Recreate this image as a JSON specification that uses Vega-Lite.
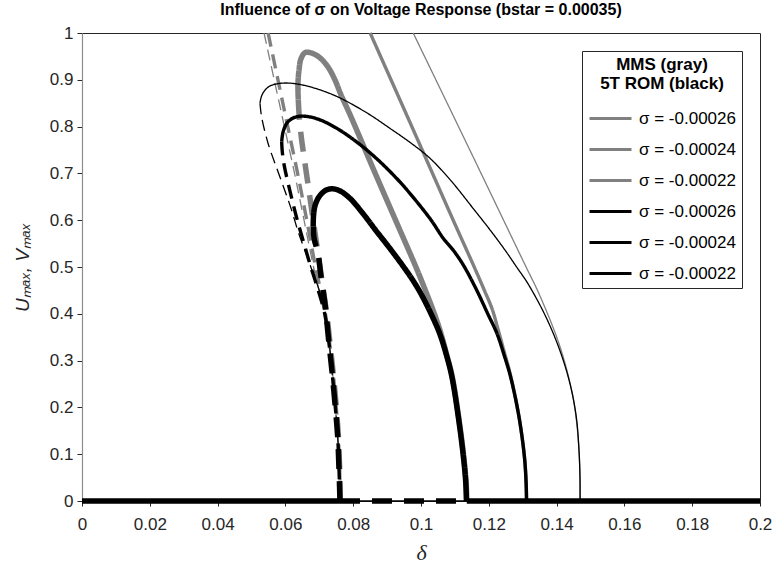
{
"$schema":"https://vega.github.io/schema/vega-lite/v6.json",
"width":678,"height":468,
"autosize":{"type":"none"},
"padding":{"left":82,"top":33,"right":15,"bottom":64},
"title":{"text":"Influence of σ on Voltage Response (bstar = 0.00035)","fontSize":16,"fontWeight":"bold","font":"Liberation Sans","color":"#000000","anchor":"middle","offset":6},
"config":{
 "view":{"stroke":"#262626","strokeWidth":1},
 "font":"Liberation Sans",
 "axis":{"labelFont":"Liberation Sans","labelFontSize":17,"labelColor":"#262626","tickColor":"#262626","grid":false,"domain":false,"tickSize":5,"tickWidth":1,"labelFlush":false,"labelOverlap":false},
 "legend":{"orient":"top-right","offset":18,"fillColor":"#ffffff","strokeColor":"#262626","padding":6,
  "titleFont":"Liberation Sans","titleFontSize":17,"titleFontWeight":"bold","titleColor":"#000000","titleAlign":"center","titleAnchor":"middle","titlePadding":3,
  "labelFont":"Liberation Sans","labelFontSize":17,"labelColor":"#000000","labelOffset":6,"symbolType":"stroke","symbolSize":1764,"symbolStrokeWidth":3,"rowPadding":0}
},
"datasets":{"pts":[
{"c":"G1S","s":"g26","sig":-0.00026,"d":"s","i":0,"x":0.0977,"y":1},
{"c":"G1S","s":"g26","sig":-0.00026,"d":"s","i":1,"x":0.1144,"y":0.75},
{"c":"G1S","s":"g26","sig":-0.00026,"d":"s","i":2,"x":0.1310,"y":0.5},
{"c":"G1S","s":"g26","sig":-0.00026,"d":"s","i":3,"x":0.1343,"y":0.451},
{"c":"G1S","s":"g26","sig":-0.00026,"d":"s","i":4,"x":0.1389,"y":0.372},
{"c":"G1S","s":"g26","sig":-0.00026,"d":"s","i":5,"x":0.1413,"y":0.323},
{"c":"G1S","s":"g26","sig":-0.00026,"d":"s","i":6,"x":0.1434,"y":0.269},
{"c":"G1S","s":"g26","sig":-0.00026,"d":"s","i":7,"x":0.1450,"y":0.216},
{"c":"G1S","s":"g26","sig":-0.00026,"d":"s","i":8,"x":0.1460,"y":0.162},
{"c":"G1S","s":"g26","sig":-0.00026,"d":"s","i":9,"x":0.1466,"y":0.109},
{"c":"G1S","s":"g26","sig":-0.00026,"d":"s","i":10,"x":0.1469,"y":0.05},
{"c":"G1S","s":"g26","sig":-0.00026,"d":"s","i":11,"x":0.1470,"y":0},
{"c":"G2S","s":"g24","sig":-0.00024,"d":"s","i":0,"x":0.0850,"y":1},
{"c":"G2S","s":"g24","sig":-0.00024,"d":"s","i":1,"x":0.0973,"y":0.8},
{"c":"G2S","s":"g24","sig":-0.00024,"d":"s","i":2,"x":0.1095,"y":0.6},
{"c":"G2S","s":"g24","sig":-0.00024,"d":"s","i":3,"x":0.1157,"y":0.5},
{"c":"G2S","s":"g24","sig":-0.00024,"d":"s","i":4,"x":0.1187,"y":0.45},
{"c":"G2S","s":"g24","sig":-0.00024,"d":"s","i":5,"x":0.1210,"y":0.41},
{"c":"G2S","s":"g24","sig":-0.00024,"d":"s","i":6,"x":0.1226,"y":0.37},
{"c":"G2S","s":"g24","sig":-0.00024,"d":"s","i":7,"x":0.1245,"y":0.32},
{"c":"G2S","s":"g24","sig":-0.00024,"d":"s","i":8,"x":0.1265,"y":0.266},
{"c":"G2S","s":"g24","sig":-0.00024,"d":"s","i":9,"x":0.1289,"y":0.18},
{"c":"G2S","s":"g24","sig":-0.00024,"d":"s","i":10,"x":0.1305,"y":0.095},
{"c":"G2S","s":"g24","sig":-0.00024,"d":"s","i":11,"x":0.1310,"y":0.04},
{"c":"G2S","s":"g24","sig":-0.00024,"d":"s","i":12,"x":0.1312,"y":0},
{"c":"G3S","s":"g22","sig":-0.00022,"d":"s","i":0,"x":0.0638,"y":0.857},
{"c":"G3S","s":"g22","sig":-0.00022,"d":"s","i":1,"x":0.0637,"y":0.89},
{"c":"G3S","s":"g22","sig":-0.00022,"d":"s","i":2,"x":0.0640,"y":0.92},
{"c":"G3S","s":"g22","sig":-0.00022,"d":"s","i":3,"x":0.0646,"y":0.945},
{"c":"G3S","s":"g22","sig":-0.00022,"d":"s","i":4,"x":0.0658,"y":0.958},
{"c":"G3S","s":"g22","sig":-0.00022,"d":"s","i":5,"x":0.0678,"y":0.957},
{"c":"G3S","s":"g22","sig":-0.00022,"d":"s","i":6,"x":0.0702,"y":0.947},
{"c":"G3S","s":"g22","sig":-0.00022,"d":"s","i":7,"x":0.0726,"y":0.927},
{"c":"G3S","s":"g22","sig":-0.00022,"d":"s","i":8,"x":0.0746,"y":0.900},
{"c":"G3S","s":"g22","sig":-0.00022,"d":"s","i":9,"x":0.0764,"y":0.868},
{"c":"G3S","s":"g22","sig":-0.00022,"d":"s","i":10,"x":0.0791,"y":0.825},
{"c":"G3S","s":"g22","sig":-0.00022,"d":"s","i":11,"x":0.0865,"y":0.70},
{"c":"G3S","s":"g22","sig":-0.00022,"d":"s","i":12,"x":0.0925,"y":0.60},
{"c":"G3S","s":"g22","sig":-0.00022,"d":"s","i":13,"x":0.0985,"y":0.50},
{"c":"G3S","s":"g22","sig":-0.00022,"d":"s","i":14,"x":0.1013,"y":0.45},
{"c":"G3S","s":"g22","sig":-0.00022,"d":"s","i":15,"x":0.1037,"y":0.405},
{"c":"G3S","s":"g22","sig":-0.00022,"d":"s","i":16,"x":0.1058,"y":0.36},
{"c":"G3S","s":"g22","sig":-0.00022,"d":"s","i":17,"x":0.1076,"y":0.312},
{"c":"G3S","s":"g22","sig":-0.00022,"d":"s","i":18,"x":0.1092,"y":0.266},
{"c":"G3S","s":"g22","sig":-0.00022,"d":"s","i":19,"x":0.1111,"y":0.18},
{"c":"G3S","s":"g22","sig":-0.00022,"d":"s","i":20,"x":0.1126,"y":0.095},
{"c":"G3S","s":"g22","sig":-0.00022,"d":"s","i":21,"x":0.1133,"y":0.04},
{"c":"G3S","s":"g22","sig":-0.00022,"d":"s","i":22,"x":0.1135,"y":0},
{"c":"G1D","s":"g26","sig":-0.00026,"d":"d1","i":0,"x":0.0537,"y":1},
{"c":"G1D","s":"g26","sig":-0.00026,"d":"d1","i":1,"x":0.0567,"y":0.9},
{"c":"G1D","s":"g26","sig":-0.00026,"d":"d1","i":2,"x":0.0597,"y":0.8},
{"c":"G1D","s":"g26","sig":-0.00026,"d":"d1","i":3,"x":0.0627,"y":0.7},
{"c":"G1D","s":"g26","sig":-0.00026,"d":"d1","i":4,"x":0.0655,"y":0.6},
{"c":"G1D","s":"g26","sig":-0.00026,"d":"d1","i":5,"x":0.0683,"y":0.5},
{"c":"G1D","s":"g26","sig":-0.00026,"d":"d1","i":6,"x":0.0699,"y":0.45},
{"c":"G1D","s":"g26","sig":-0.00026,"d":"d1","i":7,"x":0.0714,"y":0.40},
{"c":"G1D","s":"g26","sig":-0.00026,"d":"d1","i":8,"x":0.0727,"y":0.34},
{"c":"G1D","s":"g26","sig":-0.00026,"d":"d1","i":9,"x":0.0738,"y":0.28},
{"c":"G1D","s":"g26","sig":-0.00026,"d":"d1","i":10,"x":0.0748,"y":0.21},
{"c":"G1D","s":"g26","sig":-0.00026,"d":"d1","i":11,"x":0.0755,"y":0.14},
{"c":"G1D","s":"g26","sig":-0.00026,"d":"d1","i":12,"x":0.0759,"y":0.07},
{"c":"G1D","s":"g26","sig":-0.00026,"d":"d1","i":13,"x":0.0762,"y":0},
{"c":"G2D","s":"g24","sig":-0.00024,"d":"d2","i":0,"x":0.0549,"y":1},
{"c":"G2D","s":"g24","sig":-0.00024,"d":"d2","i":1,"x":0.0578,"y":0.9},
{"c":"G2D","s":"g24","sig":-0.00024,"d":"d2","i":2,"x":0.0607,"y":0.8},
{"c":"G2D","s":"g24","sig":-0.00024,"d":"d2","i":3,"x":0.0636,"y":0.7},
{"c":"G2D","s":"g24","sig":-0.00024,"d":"d2","i":4,"x":0.0663,"y":0.6},
{"c":"G2D","s":"g24","sig":-0.00024,"d":"d2","i":5,"x":0.0689,"y":0.5},
{"c":"G2D","s":"g24","sig":-0.00024,"d":"d2","i":6,"x":0.0704,"y":0.45},
{"c":"G2D","s":"g24","sig":-0.00024,"d":"d2","i":7,"x":0.0718,"y":0.40},
{"c":"G2D","s":"g24","sig":-0.00024,"d":"d2","i":8,"x":0.0730,"y":0.34},
{"c":"G2D","s":"g24","sig":-0.00024,"d":"d2","i":9,"x":0.0740,"y":0.28},
{"c":"G2D","s":"g24","sig":-0.00024,"d":"d2","i":10,"x":0.0749,"y":0.21},
{"c":"G2D","s":"g24","sig":-0.00024,"d":"d2","i":11,"x":0.0756,"y":0.14},
{"c":"G2D","s":"g24","sig":-0.00024,"d":"d2","i":12,"x":0.0760,"y":0.07},
{"c":"G2D","s":"g24","sig":-0.00024,"d":"d2","i":13,"x":0.0762,"y":0},
{"c":"G3D","s":"g22","sig":-0.00022,"d":"d3","i":0,"x":0.0638,"y":0.857},
{"c":"G3D","s":"g22","sig":-0.00022,"d":"d3","i":1,"x":0.0641,"y":0.82},
{"c":"G3D","s":"g22","sig":-0.00022,"d":"d3","i":2,"x":0.0647,"y":0.777},
{"c":"G3D","s":"g22","sig":-0.00022,"d":"d3","i":3,"x":0.0656,"y":0.73},
{"c":"G3D","s":"g22","sig":-0.00022,"d":"d3","i":4,"x":0.0666,"y":0.68},
{"c":"G3D","s":"g22","sig":-0.00022,"d":"d3","i":5,"x":0.0678,"y":0.62},
{"c":"G3D","s":"g22","sig":-0.00022,"d":"d3","i":6,"x":0.0690,"y":0.56},
{"c":"G3D","s":"g22","sig":-0.00022,"d":"d3","i":7,"x":0.0702,"y":0.50},
{"c":"G3D","s":"g22","sig":-0.00022,"d":"d3","i":8,"x":0.0712,"y":0.45},
{"c":"G3D","s":"g22","sig":-0.00022,"d":"d3","i":9,"x":0.0722,"y":0.40},
{"c":"G3D","s":"g22","sig":-0.00022,"d":"d3","i":10,"x":0.0731,"y":0.34},
{"c":"G3D","s":"g22","sig":-0.00022,"d":"d3","i":11,"x":0.0740,"y":0.28},
{"c":"G3D","s":"g22","sig":-0.00022,"d":"d3","i":12,"x":0.0749,"y":0.21},
{"c":"G3D","s":"g22","sig":-0.00022,"d":"d3","i":13,"x":0.0756,"y":0.14},
{"c":"G3D","s":"g22","sig":-0.00022,"d":"d3","i":14,"x":0.0760,"y":0.07},
{"c":"G3D","s":"g22","sig":-0.00022,"d":"d3","i":15,"x":0.0762,"y":0},
{"c":"B1S","s":"k26","sig":-0.00026,"d":"s","i":0,"x":0.0525,"y":0.850},
{"c":"B1S","s":"k26","sig":-0.00026,"d":"s","i":1,"x":0.0530,"y":0.866},
{"c":"B1S","s":"k26","sig":-0.00026,"d":"s","i":2,"x":0.0540,"y":0.878},
{"c":"B1S","s":"k26","sig":-0.00026,"d":"s","i":3,"x":0.0555,"y":0.887},
{"c":"B1S","s":"k26","sig":-0.00026,"d":"s","i":4,"x":0.0580,"y":0.892},
{"c":"B1S","s":"k26","sig":-0.00026,"d":"s","i":5,"x":0.0610,"y":0.893},
{"c":"B1S","s":"k26","sig":-0.00026,"d":"s","i":6,"x":0.0650,"y":0.889},
{"c":"B1S","s":"k26","sig":-0.00026,"d":"s","i":7,"x":0.0700,"y":0.879},
{"c":"B1S","s":"k26","sig":-0.00026,"d":"s","i":8,"x":0.0750,"y":0.865},
{"c":"B1S","s":"k26","sig":-0.00026,"d":"s","i":9,"x":0.0791,"y":0.850},
{"c":"B1S","s":"k26","sig":-0.00026,"d":"s","i":10,"x":0.0850,"y":0.825},
{"c":"B1S","s":"k26","sig":-0.00026,"d":"s","i":11,"x":0.0909,"y":0.796},
{"c":"B1S","s":"k26","sig":-0.00026,"d":"s","i":12,"x":0.0970,"y":0.765},
{"c":"B1S","s":"k26","sig":-0.00026,"d":"s","i":13,"x":0.1027,"y":0.732},
{"c":"B1S","s":"k26","sig":-0.00026,"d":"s","i":14,"x":0.1090,"y":0.683},
{"c":"B1S","s":"k26","sig":-0.00026,"d":"s","i":15,"x":0.1154,"y":0.625},
{"c":"B1S","s":"k26","sig":-0.00026,"d":"s","i":16,"x":0.1205,"y":0.578},
{"c":"B1S","s":"k26","sig":-0.00026,"d":"s","i":17,"x":0.1248,"y":0.536},
{"c":"B1S","s":"k26","sig":-0.00026,"d":"s","i":18,"x":0.1282,"y":0.500},
{"c":"B1S","s":"k26","sig":-0.00026,"d":"s","i":19,"x":0.1315,"y":0.465},
{"c":"B1S","s":"k26","sig":-0.00026,"d":"s","i":20,"x":0.1368,"y":0.394},
{"c":"B1S","s":"k26","sig":-0.00026,"d":"s","i":21,"x":0.1409,"y":0.323},
{"c":"B1S","s":"k26","sig":-0.00026,"d":"s","i":22,"x":0.1439,"y":0.252},
{"c":"B1S","s":"k26","sig":-0.00026,"d":"s","i":23,"x":0.1458,"y":0.180},
{"c":"B1S","s":"k26","sig":-0.00026,"d":"s","i":24,"x":0.1466,"y":0.109},
{"c":"B1S","s":"k26","sig":-0.00026,"d":"s","i":25,"x":0.1469,"y":0.05},
{"c":"B1S","s":"k26","sig":-0.00026,"d":"s","i":26,"x":0.1469,"y":0},
{"c":"B1D","s":"k26","sig":-0.00026,"d":"d1","i":0,"x":0.0525,"y":0.850},
{"c":"B1D","s":"k26","sig":-0.00026,"d":"d1","i":1,"x":0.0530,"y":0.82},
{"c":"B1D","s":"k26","sig":-0.00026,"d":"d1","i":2,"x":0.0549,"y":0.764},
{"c":"B1D","s":"k26","sig":-0.00026,"d":"d1","i":3,"x":0.0575,"y":0.71},
{"c":"B1D","s":"k26","sig":-0.00026,"d":"d1","i":4,"x":0.0599,"y":0.662},
{"c":"B1D","s":"k26","sig":-0.00026,"d":"d1","i":5,"x":0.0619,"y":0.62},
{"c":"B1D","s":"k26","sig":-0.00026,"d":"d1","i":6,"x":0.0637,"y":0.577},
{"c":"B1D","s":"k26","sig":-0.00026,"d":"d1","i":7,"x":0.0658,"y":0.534},
{"c":"B1D","s":"k26","sig":-0.00026,"d":"d1","i":8,"x":0.0680,"y":0.49},
{"c":"B1D","s":"k26","sig":-0.00026,"d":"d1","i":9,"x":0.0700,"y":0.45},
{"c":"B1D","s":"k26","sig":-0.00026,"d":"d1","i":10,"x":0.0718,"y":0.40},
{"c":"B1D","s":"k26","sig":-0.00026,"d":"d1","i":11,"x":0.0729,"y":0.34},
{"c":"B1D","s":"k26","sig":-0.00026,"d":"d1","i":12,"x":0.0737,"y":0.28},
{"c":"B1D","s":"k26","sig":-0.00026,"d":"d1","i":13,"x":0.0746,"y":0.21},
{"c":"B1D","s":"k26","sig":-0.00026,"d":"d1","i":14,"x":0.0754,"y":0.14},
{"c":"B1D","s":"k26","sig":-0.00026,"d":"d1","i":15,"x":0.0758,"y":0.07},
{"c":"B1D","s":"k26","sig":-0.00026,"d":"d1","i":16,"x":0.0761,"y":0},
{"c":"B2S","s":"k24","sig":-0.00024,"d":"s","i":0,"x":0.0589,"y":0.768},
{"c":"B2S","s":"k24","sig":-0.00024,"d":"s","i":1,"x":0.0592,"y":0.785},
{"c":"B2S","s":"k24","sig":-0.00024,"d":"s","i":2,"x":0.0597,"y":0.797},
{"c":"B2S","s":"k24","sig":-0.00024,"d":"s","i":3,"x":0.0604,"y":0.807},
{"c":"B2S","s":"k24","sig":-0.00024,"d":"s","i":4,"x":0.0615,"y":0.815},
{"c":"B2S","s":"k24","sig":-0.00024,"d":"s","i":5,"x":0.0633,"y":0.821},
{"c":"B2S","s":"k24","sig":-0.00024,"d":"s","i":6,"x":0.0660,"y":0.822},
{"c":"B2S","s":"k24","sig":-0.00024,"d":"s","i":7,"x":0.0700,"y":0.815},
{"c":"B2S","s":"k24","sig":-0.00024,"d":"s","i":8,"x":0.0750,"y":0.797},
{"c":"B2S","s":"k24","sig":-0.00024,"d":"s","i":9,"x":0.0790,"y":0.778},
{"c":"B2S","s":"k24","sig":-0.00024,"d":"s","i":10,"x":0.0840,"y":0.750},
{"c":"B2S","s":"k24","sig":-0.00024,"d":"s","i":11,"x":0.0889,"y":0.718},
{"c":"B2S","s":"k24","sig":-0.00024,"d":"s","i":12,"x":0.0940,"y":0.680},
{"c":"B2S","s":"k24","sig":-0.00024,"d":"s","i":13,"x":0.0987,"y":0.640},
{"c":"B2S","s":"k24","sig":-0.00024,"d":"s","i":14,"x":0.1030,"y":0.600},
{"c":"B2S","s":"k24","sig":-0.00024,"d":"s","i":15,"x":0.1066,"y":0.561},
{"c":"B2S","s":"k24","sig":-0.00024,"d":"s","i":16,"x":0.1095,"y":0.536},
{"c":"B2S","s":"k24","sig":-0.00024,"d":"s","i":17,"x":0.1125,"y":0.504},
{"c":"B2S","s":"k24","sig":-0.00024,"d":"s","i":18,"x":0.1164,"y":0.451},
{"c":"B2S","s":"k24","sig":-0.00024,"d":"s","i":19,"x":0.1197,"y":0.400},
{"c":"B2S","s":"k24","sig":-0.00024,"d":"s","i":20,"x":0.1224,"y":0.358},
{"c":"B2S","s":"k24","sig":-0.00024,"d":"s","i":21,"x":0.1246,"y":0.310},
{"c":"B2S","s":"k24","sig":-0.00024,"d":"s","i":22,"x":0.1264,"y":0.266},
{"c":"B2S","s":"k24","sig":-0.00024,"d":"s","i":23,"x":0.1289,"y":0.180},
{"c":"B2S","s":"k24","sig":-0.00024,"d":"s","i":24,"x":0.1305,"y":0.095},
{"c":"B2S","s":"k24","sig":-0.00024,"d":"s","i":25,"x":0.1310,"y":0.04},
{"c":"B2S","s":"k24","sig":-0.00024,"d":"s","i":26,"x":0.1311,"y":0},
{"c":"B2D","s":"k24","sig":-0.00024,"d":"d2","i":0,"x":0.0589,"y":0.768},
{"c":"B2D","s":"k24","sig":-0.00024,"d":"d2","i":1,"x":0.0591,"y":0.745},
{"c":"B2D","s":"k24","sig":-0.00024,"d":"d2","i":2,"x":0.0597,"y":0.715},
{"c":"B2D","s":"k24","sig":-0.00024,"d":"d2","i":3,"x":0.0608,"y":0.679},
{"c":"B2D","s":"k24","sig":-0.00024,"d":"d2","i":4,"x":0.0622,"y":0.637},
{"c":"B2D","s":"k24","sig":-0.00024,"d":"d2","i":5,"x":0.0637,"y":0.595},
{"c":"B2D","s":"k24","sig":-0.00024,"d":"d2","i":6,"x":0.0655,"y":0.55},
{"c":"B2D","s":"k24","sig":-0.00024,"d":"d2","i":7,"x":0.0675,"y":0.50},
{"c":"B2D","s":"k24","sig":-0.00024,"d":"d2","i":8,"x":0.0697,"y":0.45},
{"c":"B2D","s":"k24","sig":-0.00024,"d":"d2","i":9,"x":0.0716,"y":0.40},
{"c":"B2D","s":"k24","sig":-0.00024,"d":"d2","i":10,"x":0.0728,"y":0.34},
{"c":"B2D","s":"k24","sig":-0.00024,"d":"d2","i":11,"x":0.0737,"y":0.28},
{"c":"B2D","s":"k24","sig":-0.00024,"d":"d2","i":12,"x":0.0746,"y":0.21},
{"c":"B2D","s":"k24","sig":-0.00024,"d":"d2","i":13,"x":0.0754,"y":0.14},
{"c":"B2D","s":"k24","sig":-0.00024,"d":"d2","i":14,"x":0.0758,"y":0.07},
{"c":"B2D","s":"k24","sig":-0.00024,"d":"d2","i":15,"x":0.0761,"y":0},
{"c":"B3S","s":"k22","sig":-0.00022,"d":"s","i":0,"x":0.0682,"y":0.586},
{"c":"B3S","s":"k22","sig":-0.00022,"d":"s","i":1,"x":0.0683,"y":0.610},
{"c":"B3S","s":"k22","sig":-0.00022,"d":"s","i":2,"x":0.0687,"y":0.630},
{"c":"B3S","s":"k22","sig":-0.00022,"d":"s","i":3,"x":0.0695,"y":0.645},
{"c":"B3S","s":"k22","sig":-0.00022,"d":"s","i":4,"x":0.0707,"y":0.657},
{"c":"B3S","s":"k22","sig":-0.00022,"d":"s","i":5,"x":0.0722,"y":0.665},
{"c":"B3S","s":"k22","sig":-0.00022,"d":"s","i":6,"x":0.0740,"y":0.667},
{"c":"B3S","s":"k22","sig":-0.00022,"d":"s","i":7,"x":0.0760,"y":0.663},
{"c":"B3S","s":"k22","sig":-0.00022,"d":"s","i":8,"x":0.0790,"y":0.647},
{"c":"B3S","s":"k22","sig":-0.00022,"d":"s","i":9,"x":0.0828,"y":0.615},
{"c":"B3S","s":"k22","sig":-0.00022,"d":"s","i":10,"x":0.0868,"y":0.577},
{"c":"B3S","s":"k22","sig":-0.00022,"d":"s","i":11,"x":0.0908,"y":0.540},
{"c":"B3S","s":"k22","sig":-0.00022,"d":"s","i":12,"x":0.0945,"y":0.504},
{"c":"B3S","s":"k22","sig":-0.00022,"d":"s","i":13,"x":0.0973,"y":0.475},
{"c":"B3S","s":"k22","sig":-0.00022,"d":"s","i":14,"x":0.0999,"y":0.444},
{"c":"B3S","s":"k22","sig":-0.00022,"d":"s","i":15,"x":0.1029,"y":0.401},
{"c":"B3S","s":"k22","sig":-0.00022,"d":"s","i":16,"x":0.1055,"y":0.358},
{"c":"B3S","s":"k22","sig":-0.00022,"d":"s","i":17,"x":0.1075,"y":0.312},
{"c":"B3S","s":"k22","sig":-0.00022,"d":"s","i":18,"x":0.1091,"y":0.266},
{"c":"B3S","s":"k22","sig":-0.00022,"d":"s","i":19,"x":0.1110,"y":0.180},
{"c":"B3S","s":"k22","sig":-0.00022,"d":"s","i":20,"x":0.1125,"y":0.095},
{"c":"B3S","s":"k22","sig":-0.00022,"d":"s","i":21,"x":0.1132,"y":0.04},
{"c":"B3S","s":"k22","sig":-0.00022,"d":"s","i":22,"x":0.1134,"y":0},
{"c":"B3D","s":"k22","sig":-0.00022,"d":"d3","i":0,"x":0.0682,"y":0.586},
{"c":"B3D","s":"k22","sig":-0.00022,"d":"d3","i":1,"x":0.0685,"y":0.56},
{"c":"B3D","s":"k22","sig":-0.00022,"d":"d3","i":2,"x":0.0696,"y":0.53},
{"c":"B3D","s":"k22","sig":-0.00022,"d":"d3","i":3,"x":0.0705,"y":0.48},
{"c":"B3D","s":"k22","sig":-0.00022,"d":"d3","i":4,"x":0.0717,"y":0.42},
{"c":"B3D","s":"k22","sig":-0.00022,"d":"d3","i":5,"x":0.0728,"y":0.34},
{"c":"B3D","s":"k22","sig":-0.00022,"d":"d3","i":6,"x":0.0737,"y":0.28},
{"c":"B3D","s":"k22","sig":-0.00022,"d":"d3","i":7,"x":0.0746,"y":0.21},
{"c":"B3D","s":"k22","sig":-0.00022,"d":"d3","i":8,"x":0.0754,"y":0.14},
{"c":"B3D","s":"k22","sig":-0.00022,"d":"d3","i":9,"x":0.0758,"y":0.07},
{"c":"B3D","s":"k22","sig":-0.00022,"d":"d3","i":10,"x":0.0761,"y":0},
{"c":"BLt","s":"k26","sig":-0.00026,"d":"s","i":0,"x":0,"y":0},
{"c":"BLt","s":"k26","sig":-0.00026,"d":"s","i":1,"x":0.2,"y":0},
{"c":"BL1","s":"k22","sig":-0.00022,"d":"s","i":0,"x":0,"y":0},
{"c":"BL1","s":"k22","sig":-0.00022,"d":"s","i":1,"x":0.0761,"y":0},
{"c":"BL2","s":"k22","sig":-0.00022,"d":"d3","i":0,"x":0.0761,"y":0},
{"c":"BL2","s":"k22","sig":-0.00022,"d":"d3","i":1,"x":0.1135,"y":0},
{"c":"BL3","s":"k22","sig":-0.00022,"d":"s","i":0,"x":0.1135,"y":0},
{"c":"BL3","s":"k22","sig":-0.00022,"d":"s","i":1,"x":0.2,"y":0}
]},
"data":{"name":"pts"},
"encoding":{
 "x":{"field":"x","type":"quantitative","scale":{"domain":[0,0.2],"nice":false,"zero":false},
    "axis":{"orient":"bottom","values":[0,0.02,0.04,0.06,0.08,0.1,0.12,0.14,0.16,0.18,0.2],"format":"~g","labelPadding":10,
     "title":"δ","titleFont":"Liberation Serif","titleFontStyle":"italic","titleFontWeight":"normal","titleFontSize":22,"titleColor":"#262626","titlePadding":10}},
 "y":{"field":"y","type":"quantitative","scale":{"domain":[0,1],"nice":false,"zero":false},
    "axis":{"orient":"left","values":[0,0.1,0.2,0.3,0.4,0.5,0.6,0.7,0.8,0.9,1],"format":"~g","labelPadding":4,
     "domain":true,"domainColor":"#8c8c8c","domainWidth":1.2,
     "title":"Uₘₐₓ, Vₘₐₓ","titleFont":"Liberation Sans","titleFontStyle":"italic","titleFontWeight":"normal","titleFontSize":19,"titleColor":"#262626","titlePadding":17}},
 "color":{"field":"s","type":"nominal","scale":{"domain":["g26","g24","g22","k26","k24","k22"],"range":["#808080","#808080","#808080","#000000","#000000","#000000"]},
  "legend":{"title":["MMS (gray)","5T ROM (black)"],"labelExpr":"'σ = -0.000' + slice(datum.label,1)"}},
 "strokeWidth":{"field":"sig","type":"quantitative","scale":{"domain":[-0.00026,-0.00022],"range":[1.3,5.5]},"legend":null},
 "strokeDash":{"field":"d","type":"nominal","scale":{"domain":["s","d1","d2","d3"],"range":[[1,0],[11,6],[14,8],[20,12]]},"legend":null},
 "detail":{"field":"c","type":"nominal"},
 "order":{"field":"i","type":"quantitative"}
},
"layer":[
 {"transform":[{"filter":"indexof(datum.s,'g')==0"}],
  "mark":{"type":"line","clip":false,"interpolate":"catmull-rom"}},
 {"transform":[{"filter":"indexof(datum.s,'k')==0"}],
  "mark":{"type":"line","clip":false,"interpolate":"catmull-rom"}}
]
}
